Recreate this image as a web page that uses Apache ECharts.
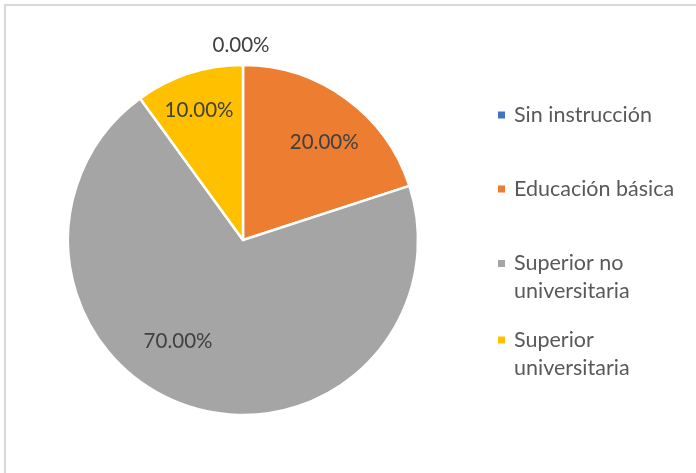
<!DOCTYPE html>
<html>
<head>
<meta charset="utf-8">
<script src="https://cdn.jsdelivr.net/npm/echarts@6/dist/echarts.min.js"></script>
<style>
  html, body { margin: 0; padding: 0; background: #ffffff; }
  #chart { width: 696px; height: 473px; }
</style>
</head>
<body>
<div id="chart"></div>
<script>
// Nivel de instrucción (porcentaje)
const categories = ['Sin instrucción', 'Educación básica', 'Superior no universitaria', 'Superior universitaria'];
const values = [0, 20, 70, 10];
const legendLabels = ['Sin instrucción', 'Educación básica', 'Superior no\nuniversitaria', 'Superior\nuniversitaria'];
const colors = ['#4472C4', '#ED7D31', '#A5A5A5', '#FFC000'];

const FONT = 'Lato, "Open Sans", sans-serif';

// label offsets from the sector mid-radius (Excel "best fit" placement)
const labelOffsets = [[-2, -104], [28, -24], [-37, 15], [-16, -44]];

const pieData = categories.map((name, i) => ({
  name: name,
  value: values[i],
  itemStyle: { color: colors[i] },
  label: { offset: labelOffsets[i] }
}));

// square marker aligned with the first text line of a two-line legend entry
const twoLineIcon = 'path://M0,0h0.01v0.01h-0.01z M0,9.5h9v9h-9z M0,55.99h0.01v0.01h-0.01z';
const legendTops = [101, 175, 248.5, 325];

const legends = categories.map((name, i) => {
  const twoLine = legendLabels[i].indexOf('\n') >= 0;
  return {
    data: [{ name: name, icon: twoLine ? twoLineIcon : 'rect' }],
    orient: 'vertical',
    left: 496,
    top: legendTops[i],
    padding: 0,
    itemWidth: 9,
    itemHeight: twoLine ? 56 : 9,
    selectedMode: false,
    formatter: () => legendLabels[i],
    textStyle: {
      fontFamily: FONT,
      fontSize: 21.5,
      lineHeight: 28,
      color: '#595959',
      padding: [0, 0, 0, 3]
    }
  };
});

const chart = echarts.init(document.getElementById('chart'), null, { renderer: 'canvas' });
chart.setOption({
  backgroundColor: '#ffffff',
  animation: false,
  graphic: [{
    type: 'rect',
    shape: { x: 5, y: 5, width: 800, height: 800 },
    style: { fill: 'none', stroke: '#D9D9D9', lineWidth: 2 },
    silent: true
  }],
  legend: legends,
  series: [{
    type: 'pie',
    center: [243, 240],
    radius: 175,
    startAngle: 90,
    clockwise: true,
    avoidLabelOverlap: false,
    stillShowZeroSum: true,
    itemStyle: { borderColor: '#ffffff', borderWidth: 2.5 },
    label: {
      show: true,
      position: 'inside',
      fontFamily: FONT,
      fontSize: 20.5,
      color: '#404040',
      formatter: p => p.value.toFixed(2) + '%'
    },
    labelLine: { show: false },
    emphasis: { disabled: true },
    data: pieData
  }]
});
</script>
</body>
</html>
